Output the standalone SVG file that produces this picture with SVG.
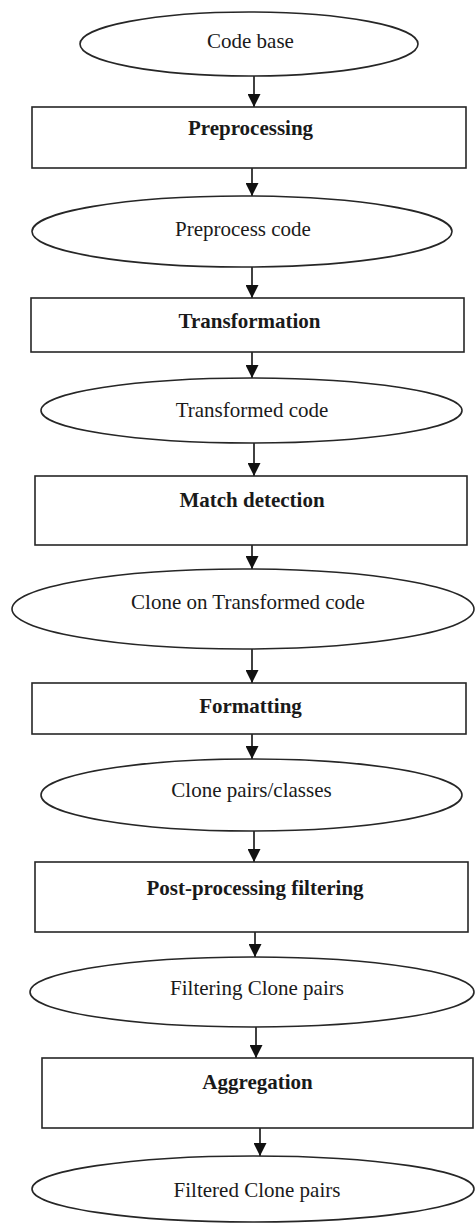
<svg xmlns="http://www.w3.org/2000/svg" width="475" height="1223" viewBox="0 0 475 1223">
<style>
.shape{fill:#fff;stroke:#262626;stroke-width:1.6}
.t{font-family:"Liberation Serif","Times New Roman",serif;font-size:21px;fill:#1a1a1a;text-anchor:middle}
.b{font-weight:bold}
.conn{stroke:#111;stroke-width:1.6;fill:none;marker-end:url(#ah)}
</style>
<defs>
<marker id="ah" markerUnits="userSpaceOnUse" markerWidth="13" markerHeight="13" refX="13" refY="6.5" orient="auto">
<path d="M0,0 L13,6.5 L0,13 z" fill="#111"/>
</marker>
</defs>
<rect width="475" height="1223" fill="#fff"/>
<g id="connectors">
<line class="conn" x1="254" y1="76" x2="254" y2="107"/>
<line class="conn" x1="252" y1="168" x2="252" y2="196"/>
<line class="conn" x1="252" y1="267" x2="252" y2="298"/>
<line class="conn" x1="252" y1="352" x2="252" y2="378"/>
<line class="conn" x1="254" y1="443" x2="254" y2="476"/>
<line class="conn" x1="252" y1="545" x2="252" y2="569"/>
<line class="conn" x1="252" y1="649" x2="252" y2="683"/>
<line class="conn" x1="252" y1="734" x2="252" y2="759"/>
<line class="conn" x1="254" y1="831" x2="254" y2="862"/>
<line class="conn" x1="255" y1="932" x2="255" y2="957"/>
<line class="conn" x1="256" y1="1027" x2="256" y2="1058"/>
<line class="conn" x1="260" y1="1128" x2="260" y2="1156"/>
</g>
<g id="code-base"><ellipse class="shape" cx="249" cy="44" rx="169" ry="32"/><text class="t" x="250.5" y="48">Code base</text></g>
<g id="preprocessing"><rect class="shape" x="32" y="107" width="434" height="61"/><text class="t b" x="250.5" y="135">Preprocessing</text></g>
<g id="preprocess-code"><ellipse class="shape" cx="242" cy="231.5" rx="210" ry="35.5"/><text class="t" x="243" y="236">Preprocess code</text></g>
<g id="transformation"><rect class="shape" x="31" y="298" width="433" height="54"/><text class="t b" x="249.5" y="328">Transformation</text></g>
<g id="transformed-code"><ellipse class="shape" cx="251.5" cy="410.5" rx="210.5" ry="32.5"/><text class="t" x="252" y="417">Transformed code</text></g>
<g id="match-detection"><rect class="shape" x="35" y="476" width="432" height="69"/><text class="t b" x="252" y="507">Match detection</text></g>
<g id="clone-on-transformed"><ellipse class="shape" cx="243" cy="609" rx="231" ry="40"/><text class="t" x="248" y="609">Clone on Transformed code</text></g>
<g id="formatting"><rect class="shape" x="32" y="683" width="434" height="51"/><text class="t b" x="250.5" y="713">Formatting</text></g>
<g id="clone-pairs-classes"><ellipse class="shape" cx="251.5" cy="795" rx="210.5" ry="36"/><text class="t" x="251.5" y="797">Clone pairs/classes</text></g>
<g id="post-processing"><rect class="shape" x="35" y="862" width="433" height="70"/><text class="t b" x="255" y="895">Post-processing filtering</text></g>
<g id="filtering-clone-pairs"><ellipse class="shape" cx="252" cy="992" rx="222" ry="35"/><text class="t" x="257" y="995">Filtering Clone pairs</text></g>
<g id="aggregation"><rect class="shape" x="42" y="1058" width="431" height="70"/><text class="t b" x="257.5" y="1089">Aggregation</text></g>
<g id="filtered-clone-pairs"><ellipse class="shape" cx="253" cy="1189" rx="221" ry="33"/><text class="t" x="257" y="1197">Filtered Clone pairs</text></g>
</svg>
